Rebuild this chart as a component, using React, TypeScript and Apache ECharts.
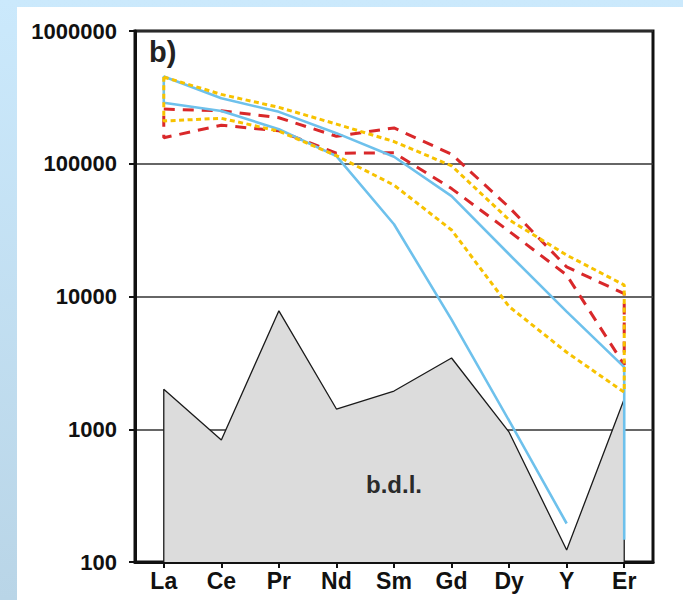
import React, { useEffect, useRef } from "react";
import * as echarts from "echarts";

const categories = ["La", "Ce", "Pr", "Nd", "Sm", "Gd", "Dy", "Y", "Er"];
const bdl = [2000, 830, 7800, 1420, 1940, 3440, 950, 123, 1690];
const blueUpper = [454000, 311000, 246000, 170000, 113000, 57000, 20800, 7700, 2940];
const blueLower = [288000, 250000, 182000, 114000, 35000, 6700, 1160, 195];
const blueErFloor = 147;
const redUpper = [258000, 251000, 222000, 161000, 186000, 118000, 47000, 16700, 10500];
const redLower = [157000, 195000, 177000, 120000, 121000, 65000, 31000, 14500, 3050];
const yellowUpper = [450000, 333000, 266000, 199000, 147000, 96500, 37800, 20500, 12200];
const yellowLower = [210000, 220000, 176000, 115000, 69000, 31700, 8400, 3800, 1900];
const yMin = 100;
const yMax = 1000000;

function envelope(upper: number[], lower: number[]) {
  const pts: [number, number][] = [];
  upper.forEach((v, i) => pts.push([i, v]));
  for (let i = lower.length - 1; i >= 0; i--) pts.push([i, lower[i]]);
  pts.push([0, upper[0]]);
  return pts;
}

export default function App() {
  const ref = useRef<HTMLDivElement>(null);
  useEffect(() => {
    if (!ref.current) return;
    const chart = echarts.init(ref.current, null, { renderer: "svg" });
    const font = "'Liberation Sans', Arial, sans-serif";

    const bluePts: [number, number][] = [];
    for (let i = blueLower.length - 1; i >= 0; i--) bluePts.push([i, blueLower[i]]);
    blueUpper.forEach((v, i) => bluePts.push([i, v]));
    bluePts.push([blueUpper.length - 1, blueErFloor]);

    const greyPts: [number, number][] = [[0, yMin]];
    bdl.forEach((v, i) => greyPts.push([i, v]));
    greyPts.push([bdl.length - 1, yMin]);

    chart.setOption({
      animation: false,
      backgroundColor: "transparent",
      grid: {
        left: 135,
        right: 30,
        top: 31,
        bottom: 38,
        show: true,
        borderColor: "#111",
        borderWidth: 3,
        backgroundColor: "#fff",
      },
      xAxis: {
        type: "category",
        data: categories,
        boundaryGap: true,
        axisLine: { show: true, lineStyle: { color: "#111", width: 3 } },
        axisTick: { show: true, alignWithLabel: true, length: 6, lineStyle: { color: "#111", width: 2 } },
        axisLabel: { color: "#111", fontSize: 23, fontWeight: "bold", fontFamily: font, margin: 7 },
        splitLine: { show: false },
      },
      yAxis: {
        type: "log",
        logBase: 10,
        min: yMin,
        max: yMax,
        axisLine: { show: true, lineStyle: { color: "#111", width: 3 } },
        axisTick: { show: true, length: 6, lineStyle: { color: "#111", width: 2 } },
        minorTick: { show: false },
        splitLine: { show: true, lineStyle: { color: "#333", width: 1.5 } },
        axisLabel: {
          color: "#111",
          fontSize: 22,
          fontWeight: "bold",
          fontFamily: font,
          margin: 18,
          formatter: (v: number) => String(Math.round(v)),
        },
      },
      graphic: [
        {
          type: "text",
          left: 149,
          top: 37,
          z: 10,
          style: { text: "b)", font: "bold 29px " + font, fill: "#222" },
        },
        {
          type: "text",
          left: 366,
          top: 472,
          z: 10,
          style: { text: "b.d.l.", font: "bold 24px " + font, fill: "#2a2a2a" },
        },
      ],
      series: [
        {
          name: "b.d.l.",
          type: "line",
          data: greyPts,
          symbol: "none",
          z: 2,
          lineStyle: { color: "#1a1a1a", width: 1.3 },
          areaStyle: { color: "#dcdcdc", opacity: 1 },
        },
        {
          name: "red",
          type: "line",
          data: envelope(redUpper, redLower),
          symbol: "none",
          z: 3,
          lineStyle: { color: "#d9282a", width: 3, type: [11, 8] },
        },
        {
          name: "blue",
          type: "line",
          data: bluePts,
          symbol: "none",
          z: 4,
          lineStyle: { color: "#6ec1ec", width: 2.6 },
        },
        {
          name: "yellow",
          type: "line",
          data: envelope(yellowUpper, yellowLower),
          symbol: "none",
          z: 5,
          lineStyle: { color: "#f7c200", width: 3, type: [5, 3.5] },
        },
      ],
    });
    return () => chart.dispose();
  }, []);

  return (
    <div
      style={{
        position: "fixed",
        left: 0,
        top: 0,
        width: 683,
        height: 600,
        background: "linear-gradient(#cbe9fc, #b9d5e7)",
      }}
    >
      <div style={{ position: "absolute", left: 17, top: 7, right: 0, bottom: 0, background: "#fff" }} />
      <div ref={ref} style={{ position: "absolute", left: 0, top: 0, width: 683, height: 600 }} />
    </div>
  );
}
